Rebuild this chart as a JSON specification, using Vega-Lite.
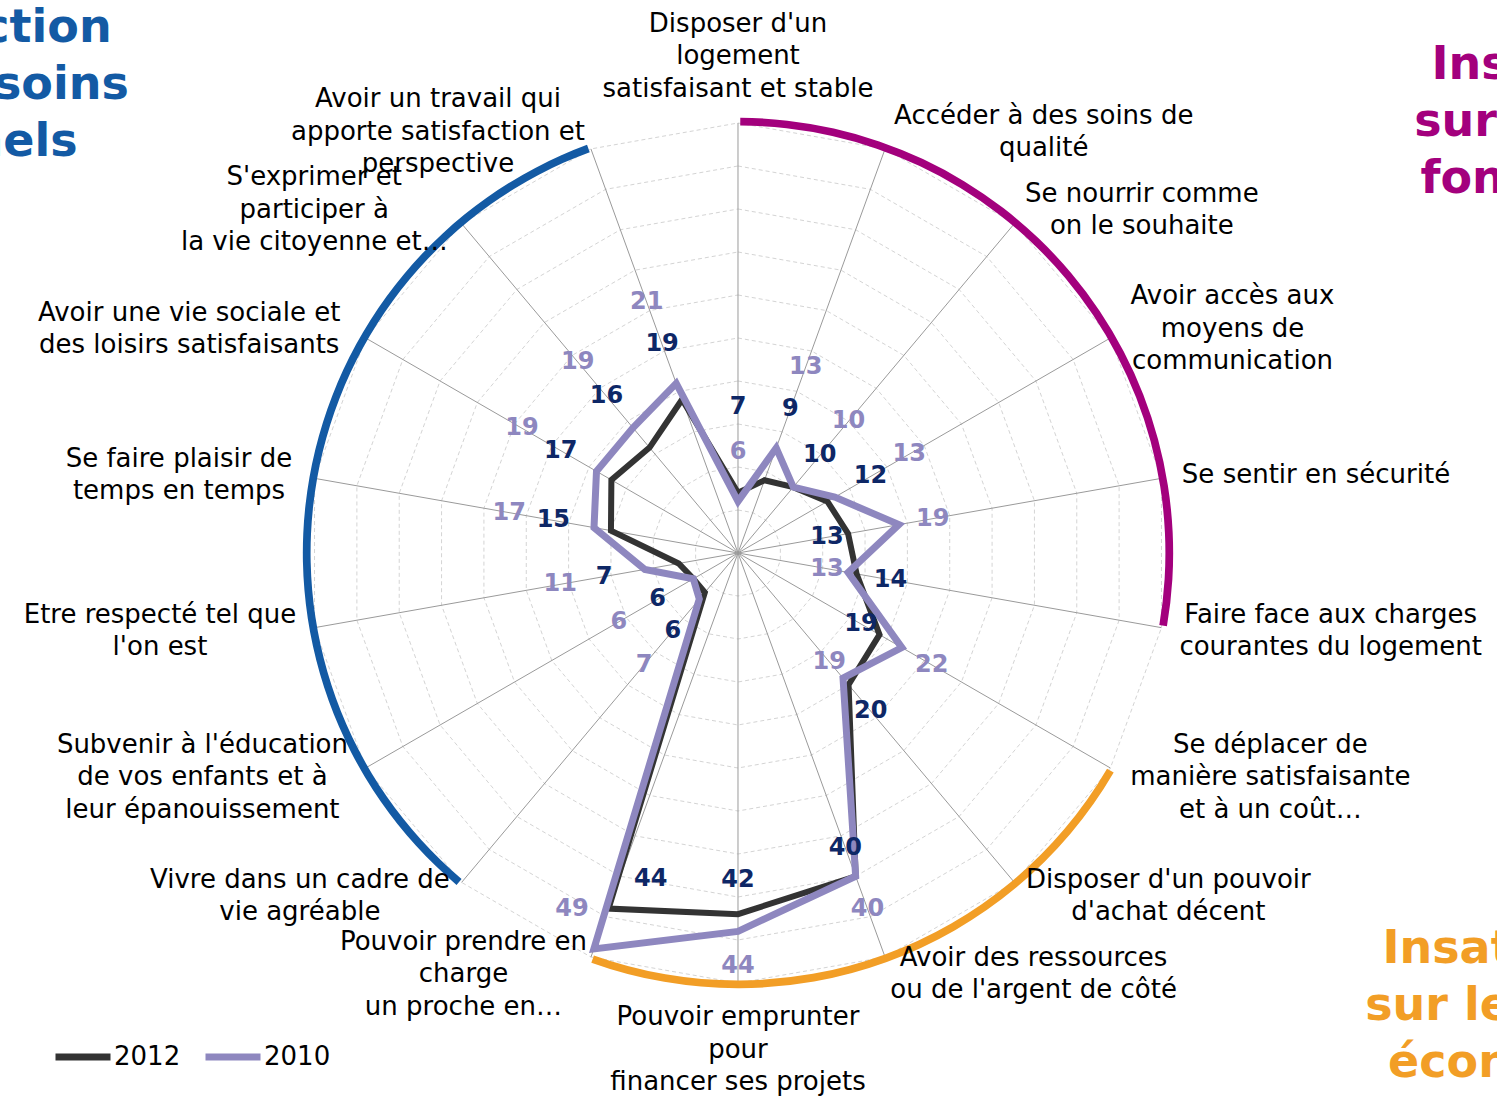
{
  "$schema": "https://vega.github.io/schema/vega-lite/v6.json",
  "width": 1497,
  "height": 1100,
  "autosize": {"type": "none"},
  "padding": 0,
  "background": "white",
  "config": {
    "view": {"stroke": null},
    "font": "DejaVu Sans",
    "axis": {"disable": true},
    "legend": {"orient": "none", "legendX": 52, "legendY": 1026, "direction": "horizontal", "title": null, "symbolType": "stroke", "symbolSize": 3025, "symbolStrokeWidth": 7, "labelFontSize": 26, "labelFont": "DejaVu Sans", "labelColor": "#000000", "labelOffset": 0, "columnPadding": 10, "padding": 0}
  },
  "datasets": {
    "cats": [
      {"lab": "Disposer d'un|logement|satisfaisant et stable", "2012": 7, "2010": 6},
      {"lab": "Accéder à des soins de|qualité", "2012": 9, "2010": 13},
      {"lab": "Se nourrir comme|on le souhaite", "2012": 10, "2010": 10},
      {"lab": "Avoir accès aux|moyens de|communication", "2012": 12, "2010": 13},
      {"lab": "Se sentir en sécurité", "2012": 13, "2010": 19},
      {"lab": "Faire face aux charges|courantes du logement", "2012": 14, "2010": 13},
      {"lab": "Se déplacer de|manière satisfaisante|et à un coût…", "2012": 19, "2010": 22},
      {"lab": "Disposer d'un pouvoir|d'achat décent", "2012": 20, "2010": 19},
      {"lab": "Avoir des ressources|ou de l'argent de côté", "2012": 40, "2010": 40},
      {"lab": "Pouvoir emprunter|pour|financer ses projets", "2012": 42, "2010": 44},
      {"lab": "Pouvoir prendre en|charge|un proche en…", "2012": 44, "2010": 49},
      {"lab": "Vivre dans un cadre de|vie agréable", "2012": 6, "2010": 7},
      {"lab": "Subvenir à l'éducation|de vos enfants et à|leur épanouissement", "2012": 6, "2010": 6},
      {"lab": "Etre respecté tel que|l'on est", "2012": 7, "2010": 11},
      {"lab": "Se faire plaisir de|temps en temps", "2012": 15, "2010": 17},
      {"lab": "Avoir une vie sociale et|des loisirs satisfaisants", "2012": 17, "2010": 19},
      {"lab": "S'exprimer et|participer à|la vie citoyenne et…", "2012": 16, "2010": 19},
      {"lab": "Avoir un travail qui|apporte satisfaction et|perspective", "2012": 19, "2010": 21}
    ],
    "groups": [
      {"group": "fondamentaux", "first": 0, "last": 5},
      {"group": "économiques", "first": 6, "last": 10},
      {"group": "personnels", "first": 11, "last": 17}
    ]
  },
  "layer": [
    {
      "data": {"name": "cats"},
      "transform": [
        {"window": [{"op": "row_number", "as": "rn"}]},
        {"calculate": "datum.rn - 1", "as": "idx"},
        {"calculate": "datum.idx * PI / 9", "as": "a"},
        {"calculate": "[5,10,15,20,25,30,35,40,45,50]", "as": "ring"},
        {"flatten": ["ring"]},
        {"calculate": "datum.ring * sin(datum.a)", "as": "gx"},
        {"calculate": "datum.ring * cos(datum.a)", "as": "gy"}
      ],
      "mark": {"type": "line", "interpolate": "linear-closed", "stroke": "#d4d4d4", "strokeWidth": 1, "strokeDash": [4, 3]},
      "encoding": {
        "x": {"field": "gx", "type": "quantitative", "scale": {"domain": [-85.814, 88.256], "nice": false, "zero": false}},
        "y": {"field": "gy", "type": "quantitative", "scale": {"domain": [-63.605, 64.302], "nice": false, "zero": false}},
        "detail": {"field": "ring", "type": "nominal"},
        "order": {"field": "idx", "type": "quantitative"}
      }
    },
    {
      "data": {"name": "cats"},
      "transform": [
        {"window": [{"op": "row_number", "as": "rn"}]},
        {"calculate": "datum.rn - 1", "as": "idx"},
        {"calculate": "datum.idx * PI / 9", "as": "a"},
        {"calculate": "50 * sin(datum.a)", "as": "ex"},
        {"calculate": "50 * cos(datum.a)", "as": "ey"},
        {"calculate": "0", "as": "o"}
      ],
      "mark": {"type": "rule", "stroke": "#9a9a9a", "strokeWidth": 1},
      "encoding": {
        "x": {"field": "ex", "type": "quantitative", "scale": {"domain": [-85.814, 88.256], "nice": false, "zero": false}},
        "y": {"field": "ey", "type": "quantitative", "scale": {"domain": [-63.605, 64.302], "nice": false, "zero": false}},
        "x2": {"field": "o"},
        "y2": {"field": "o"}
      }
    },
    {
      "data": {"name": "groups"},
      "transform": [
        {"calculate": "datum.first * 20 + 0.3", "as": "t1"},
        {"calculate": "datum.last * 20 - 0.3", "as": "t2"},
        {"calculate": "50.6", "as": "ro"},
        {"calculate": "49.7", "as": "ri"},
        {"calculate": "0", "as": "o"}
      ],
      "mark": {"type": "arc"},
      "encoding": {
        "x": {"field": "o", "type": "quantitative", "scale": {"domain": [-85.814, 88.256], "nice": false, "zero": false}},
        "y": {"field": "o", "type": "quantitative", "scale": {"domain": [-63.605, 64.302], "nice": false, "zero": false}},
        "theta": {"field": "t1", "type": "quantitative", "stack": null, "scale": {"type": "linear", "domain": [0, 360], "range": [0, 6.283185307179586], "zero": false, "nice": false}},
        "theta2": {"field": "t2"},
        "radius": {"field": "ro", "type": "quantitative", "scale": {"type": "linear", "domain": [0, 50], "range": [0, 430], "zero": true, "nice": false}},
        "radius2": {"field": "ri"},
        "fill": {"field": "group", "type": "nominal", "scale": {"domain": ["fondamentaux", "économiques", "personnels"], "range": ["#A3007D", "#F29E26", "#135AA4"]}, "legend": null}
      }
    },
    {
      "data": {"name": "cats"},
      "transform": [
        {"window": [{"op": "row_number", "as": "rn"}]},
        {"calculate": "datum.rn - 1", "as": "idx"},
        {"calculate": "datum.idx * PI / 9", "as": "a"},
        {"fold": ["2012", "2010"]},
        {"filter": "datum.key == '2012'"},
        {"calculate": "datum.value * sin(datum.a)", "as": "px"},
        {"calculate": "datum.value * cos(datum.a)", "as": "py"}
      ],
      "mark": {"type": "line", "interpolate": "linear-closed", "strokeWidth": 6, "strokeJoin": "miter"},
      "encoding": {
        "x": {"field": "px", "type": "quantitative", "scale": {"domain": [-85.814, 88.256], "nice": false, "zero": false}},
        "y": {"field": "py", "type": "quantitative", "scale": {"domain": [-63.605, 64.302], "nice": false, "zero": false}},
        "order": {"field": "idx", "type": "quantitative"},
        "color": {"field": "key", "type": "nominal", "scale": {"domain": ["2012", "2010"], "range": ["#333333", "#8E87BF"]}}
      }
    },
    {
      "data": {"name": "cats"},
      "transform": [
        {"window": [{"op": "row_number", "as": "rn"}]},
        {"calculate": "datum.rn - 1", "as": "idx"},
        {"calculate": "datum.idx * PI / 9", "as": "a"},
        {"fold": ["2012", "2010"]},
        {"filter": "datum.key == '2010'"},
        {"calculate": "datum.value * sin(datum.a)", "as": "px"},
        {"calculate": "datum.value * cos(datum.a)", "as": "py"}
      ],
      "mark": {"type": "line", "interpolate": "linear-closed", "strokeWidth": 7, "strokeJoin": "miter"},
      "encoding": {
        "x": {"field": "px", "type": "quantitative", "scale": {"domain": [-85.814, 88.256], "nice": false, "zero": false}},
        "y": {"field": "py", "type": "quantitative", "scale": {"domain": [-63.605, 64.302], "nice": false, "zero": false}},
        "order": {"field": "idx", "type": "quantitative"},
        "color": {"field": "key", "type": "nominal", "scale": {"domain": ["2012", "2010"], "range": ["#333333", "#8E87BF"]}}
      }
    },
    {
      "data": {"name": "cats"},
      "transform": [
        {"window": [{"op": "row_number", "as": "rn"}]},
        {"calculate": "datum.rn - 1", "as": "idx"},
        {"calculate": "max(datum['2012'], datum['2010'])", "as": "mx"},
        {"calculate": "min(datum['2012'], datum['2010'])", "as": "mn"},
        {"calculate": "datum.idx >= 4 && datum.idx <= 10", "as": "side"},
        {"calculate": "datum.side && datum.mx + 4 > 48", "as": "cap"},
        {"fold": ["2012", "2010"]},
        {"calculate": "datum.key == '2010' ? datum['2010'] >= datum['2012'] : datum['2012'] > datum['2010']", "as": "outer"},
        {"calculate": "datum.side ? (datum.outer ? (datum.cap ? datum.mx - 3.3 : datum.mx + 4) : (datum.mn > 30 ? datum.mn - 3.5 - 0.25 * (datum.mx - datum.mn) : datum.mn - 2.5)) : (datum.outer ? datum.mx + 10 : datum.mx + 4.8)", "as": "lr"},
        {"calculate": "(datum.idx * 20 + (datum.cap ? (datum.outer ? 5 : -5) : 0)) * PI / 180", "as": "la"},
        {"calculate": "datum.lr * sin(datum.la)", "as": "lx"},
        {"calculate": "datum.lr * cos(datum.la)", "as": "ly"}
      ],
      "mark": {"type": "text", "fontSize": 24, "fontWeight": "bold", "align": "center", "baseline": "middle"},
      "encoding": {
        "x": {"field": "lx", "type": "quantitative", "scale": {"domain": [-85.814, 88.256], "nice": false, "zero": false}},
        "y": {"field": "ly", "type": "quantitative", "scale": {"domain": [-63.605, 64.302], "nice": false, "zero": false}},
        "text": {"field": "value", "type": "quantitative"},
        "color": {"condition": {"test": "datum.key == '2012'", "value": "#0E2766"}, "value": "#8E87BF"}
      }
    },
    {
      "data": {"name": "cats"},
      "transform": [
        {"window": [{"op": "row_number", "as": "rn"}]},
        {"calculate": "datum.rn - 1", "as": "idx"},
        {"calculate": "datum.idx * PI / 9", "as": "a"},
        {"calculate": "sin(datum.a)", "as": "s"},
        {"calculate": "cos(datum.a)", "as": "c"},
        {"calculate": "split(datum.lab, '|')", "as": "ls"},
        {"calculate": "0.6*length(datum.ls[0]) - 0.26*length(replace(datum.ls[0], regexp(\"[^iljtfrI' ,.]\", \"g\"), '')) + 0.35*length(replace(datum.ls[0], regexp(\"[^mwMW…]\", \"g\"), ''))", "as": "w0"},
        {"calculate": "length(datum.ls) > 1 ? 0.6*length(datum.ls[1]) - 0.26*length(replace(datum.ls[1], regexp(\"[^iljtfrI' ,.]\", \"g\"), '')) + 0.35*length(replace(datum.ls[1], regexp(\"[^mwMW…]\", \"g\"), '')) : 0", "as": "w1"},
        {"calculate": "length(datum.ls) > 2 ? 0.6*length(datum.ls[2]) - 0.26*length(replace(datum.ls[2], regexp(\"[^iljtfrI' ,.]\", \"g\"), '')) + 0.35*length(replace(datum.ls[2], regexp(\"[^mwMW…]\", \"g\"), '')) : 0", "as": "w2"},
        {"calculate": "max(datum.w0, datum.w1, datum.w2) * 26 / 8.6", "as": "bw"},
        {"calculate": "length(datum.ls)", "as": "nl"},
        {"calculate": "52.5 * datum.s + (abs(datum.s) < 0.05 ? 0 : (datum.s > 0 ? 1 : -1) * datum.bw / 2)", "as": "lx"},
        {"calculate": "52.1 * datum.c + (abs(datum.s) < 0.05 ? (datum.c > 0 ? 1 : -1) * datum.nl * 32.5 / 2 / 8.6 : 0) + (datum.nl - 1) * 32.5 / 2 / 8.6", "as": "ly"}
      ],
      "mark": {"type": "text", "fontSize": 26, "align": "center", "baseline": "middle", "lineBreak": "|", "lineHeight": 32.5, "fill": "#000000"},
      "encoding": {
        "x": {"field": "lx", "type": "quantitative", "scale": {"domain": [-85.814, 88.256], "nice": false, "zero": false}},
        "y": {"field": "ly", "type": "quantitative", "scale": {"domain": [-63.605, 64.302], "nice": false, "zero": false}},
        "text": {"field": "lab", "type": "nominal"}
      }
    },
    {
      "data": {"values": [{"t": "Insatisfaction|sur les besoins|personnels"}]},
      "mark": {"type": "text", "fontSize": 46, "fontWeight": "bold", "align": "center", "baseline": "middle", "lineBreak": "|", "lineHeight": 57, "fill": "#135AA4"},
      "encoding": {
        "x": {"datum": -93.4, "type": "quantitative", "scale": {"domain": [-85.814, 88.256], "nice": false, "zero": false}},
        "y": {"datum": 61.0, "type": "quantitative", "scale": {"domain": [-63.605, 64.302], "nice": false, "zero": false}},
        "text": {"field": "t", "type": "nominal"}
      }
    },
    {
      "data": {"values": [{"t": "Insatisfaction|sur les besoins|fondamentaux"}]},
      "mark": {"type": "text", "fontSize": 46, "fontWeight": "bold", "align": "center", "baseline": "middle", "lineBreak": "|", "lineHeight": 57, "fill": "#A3007D"},
      "encoding": {
        "x": {"datum": 101.2, "type": "quantitative", "scale": {"domain": [-85.814, 88.256], "nice": false, "zero": false}},
        "y": {"datum": 56.8, "type": "quantitative", "scale": {"domain": [-63.605, 64.302], "nice": false, "zero": false}},
        "text": {"field": "t", "type": "nominal"}
      }
    },
    {
      "data": {"values": [{"t": "Insatisfaction|sur les besoins|économiques"}]},
      "mark": {"type": "text", "fontSize": 46, "fontWeight": "bold", "align": "center", "baseline": "middle", "lineBreak": "|", "lineHeight": 57, "fill": "#F29E26"},
      "encoding": {
        "x": {"datum": 95.5, "type": "quantitative", "scale": {"domain": [-85.814, 88.256], "nice": false, "zero": false}},
        "y": {"datum": -46.0, "type": "quantitative", "scale": {"domain": [-63.605, 64.302], "nice": false, "zero": false}},
        "text": {"field": "t", "type": "nominal"}
      }
    }
  ]
}
